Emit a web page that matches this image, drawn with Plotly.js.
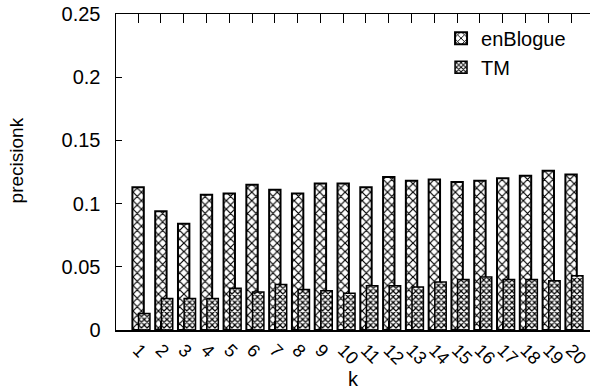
<!DOCTYPE html>
<html>
<head>
<meta charset="utf-8">
<script src="https://cdn.plot.ly/plotly-3.0.1.min.js"></script>
<style>html,body{margin:0;padding:0;overflow:hidden;background:#fff;}</style>
</head>
<body>
<div id="chart" style="width:590px;height:390px;"></div>
<script>
const kValues = [1,2,3,4,5,6,7,8,9,10,11,12,13,14,15,16,17,18,19,20];
const kLabels = ["1","2","3","4","5","6","7","8","9","10","11","12","13","14","15","16","17","18","19","20"];
const enBlogue = [0.113,0.094,0.084,0.107,0.108,0.115,0.111,0.108,0.116,0.116,0.113,0.121,0.118,0.119,0.117,0.118,0.120,0.122,0.126,0.123];
const tm = [0.013,0.025,0.025,0.025,0.033,0.030,0.036,0.032,0.031,0.029,0.035,0.035,0.034,0.038,0.040,0.042,0.040,0.040,0.039,0.043];
const yTicks = [0,0.05,0.1,0.15,0.2,0.25];

const fam = "'Liberation Sans', Arial, sans-serif";
const font = {family: fam, size: 20, color: "#000"};

const traces = [
  {
    type: "bar", name: "enBlogue", x: kValues, y: enBlogue,
    offset: -0.25, width: 0.5,
    marker: {color: "#fff", line: {color: "#000", width: 2},
      pattern: {shape: "x", size: 6, solidity: 0.35, fgcolor: "#000", bgcolor: "#fff"}}
  },
  {
    type: "bar", name: "TM", x: kValues, y: tm,
    offset: 0.02, width: 0.5,
    marker: {color: "#fff", line: {color: "#000", width: 1.5},
      pattern: {shape: "x", size: 4, solidity: 0.5, fgcolor: "#000", bgcolor: "#fff"}}
  }
];

const layout = {
  width: 590, height: 390,
  margin: {l: 116, r: 0, t: 14, b: 60, pad: 0},
  paper_bgcolor: "#fff", plot_bgcolor: "#fff",
  font: font,
  barmode: "overlay",
  showlegend: true,
  legend: {x: 0.96, xanchor: "right", y: 0.985, yanchor: "top", bgcolor: "rgba(0,0,0,0)",
    font: font, traceorder: "normal", tracegroupgap: 0},
  xaxis: {
    range: [0.03, 20.83], tickmode: "array", tickvals: kValues, ticktext: kLabels,
    tickangle: 45, ticks: "inside", ticklen: 9, tickwidth: 1, tickcolor: "#000",
    tickfont: {family: fam, size: 18, color: "#000"},
    showline: true, linecolor: "#000", linewidth: 1.5, mirror: "ticks",
    showgrid: false, zeroline: false, ticklabelstandoff: 1, ticklabeloverflow: "allow",
    title: {text: "k", font: font, standoff: 4}
  },
  yaxis: {
    range: [0, 0.25], tickmode: "array", tickvals: yTicks,
    ticks: "inside", ticklen: 6, tickwidth: 1, tickcolor: "#000",
    showline: true, linecolor: "#000", linewidth: 1.5, mirror: false,
    showgrid: false, zeroline: false, ticklabelstandoff: 10
  },
  annotations: [
    {text: "precisionk", xref: "paper", yref: "paper", x: -0.208, y: 0.538,
     textangle: -90, showarrow: false, font: {family: fam, size: 19, color: "#000"},
     xanchor: "center", yanchor: "middle"}
  ]
};

Plotly.newPlot("chart", traces, layout, {displayModeBar: false, staticPlot: true});
</script>
</body>
</html>
